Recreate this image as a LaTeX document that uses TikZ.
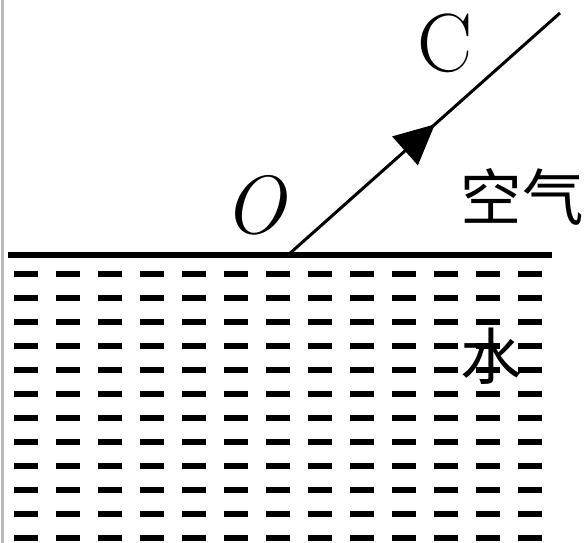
\documentclass[tikz,border=0pt]{standalone}
\usepackage{fontspec}
\newfontfamily\cjk{Noto Sans CJK SC}
\usetikzlibrary{arrows.meta, decorations.markings}

\begin{document}
\begin{tikzpicture}[
    x = 0.02cm, y = -0.02cm,
    every node/.style = {inner sep=0pt},
    lbl/.style   = {font=\fontsize{47}{50}\selectfont},
    zh/.style    = {font=\cjk\fontsize{35}{38}\selectfont},
    surface/.style = {line width=0.12cm},
    water/.style = {line width=0.12cm, dash pattern=on 0.48cm off 0.36cm},
    ray/.style   = {line width=0.06cm,
                    postaction={decorate, decoration={markings,
                      mark=at position 0.54 with {\arrow{Triangle[length=0.8cm,width=0.76cm]}}}}},
]
\useasboundingbox (0,0) rectangle (585,543);

% frame edge on the left
\draw[gray!55, line width=0.05cm] (2.5,0) -- (2.5,543);

% water surface
\coordinate (sl) at (8,255);
\coordinate (sr) at (552,255);
\draw[surface] (sl) -- (sr);

% water hatching
\foreach \r in {0,...,11}
  \draw[water] (14,274+24*\r) -- (545,274+24*\r);

% ray O -> C
\coordinate (o) at (288,255);
\coordinate (c) at (560,13);
\draw[ray] (o) -- (c);

% labels
\node[lbl] (C) at (445,43) {C};
\node[lbl] (O) at (254,205) {\itshape O};
\node[zh] (air) at (522,197) {空气};
\node[zh] (wat) at (491,356) {水};
\end{tikzpicture}
\end{document}
